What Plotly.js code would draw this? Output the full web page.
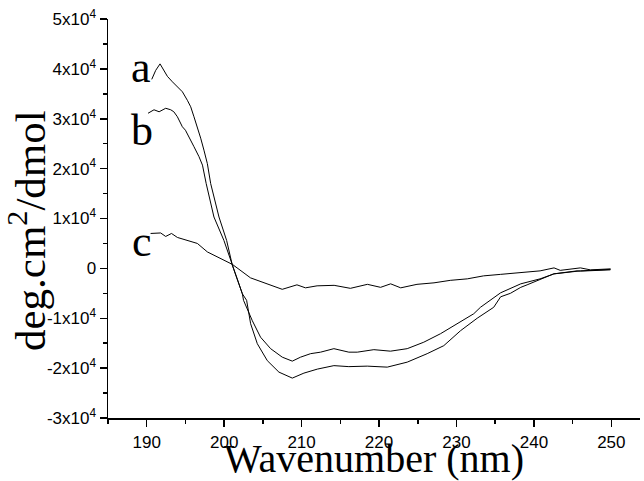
<!DOCTYPE html>
<html>
<head>
<meta charset="utf-8">
<script src="https://cdn.plot.ly/plotly-3.0.1.min.js"></script>
<style>html,body{margin:0;padding:0;background:#fff;}#chart{width:644px;height:481px;}</style>
</head>
<body>
<div id="chart"></div>
<script>
// Curve a
const aX = [190.65,191.16,191.72,192.23,192.67,193.32,193.96,194.61,195.25,195.68,196.10,196.54,196.97,197.39,197.83,198.26,199.33,200.32,201.06,202.35,202.9,203.42,204.28,205.57,207.07,208.80,210.30,212.03,214.17,216.10,218.48,221.06,223.64,226.22,228.36,230.52,232.67,234.81,235.7,236.97,238.3,239.12,240.8,241.26,242.55,245.57,246.0,249.87];
const aY = [37900,39700,41000,39800,38500,37400,36400,35400,33700,32400,30400,28400,26100,23700,21000,17000,10300,5600,600,-5100,-6400,-11100,-15100,-18500,-20800,-22000,-21000,-20200,-19500,-19700,-19600,-19800,-18800,-17100,-15500,-12500,-10000,-7800,-5700,-5000,-3800,-3300,-2300,-2000,-1100,-500,-550,-300];
// Curve b
const bX = [190.17,190.94,191.6,192.45,193.1,193.5,193.96,194.6,195.0,195.46,196.1,196.75,197.2,197.68,198.68,199.97,201.06,202.35,202.5,203.64,204.7,206.0,207.5,208.8,209.87,211.16,212.45,214.17,216.1,217.19,219.33,221.48,223.64,225.78,227.94,230.09,232.23,233.1,234.39,235.7,238.3,240.8,242.6,246.0,249.9];
const bY = [31100,31800,31400,32100,31800,31400,30400,28400,27700,26400,24400,22400,20700,17000,10300,5600,600,-5100,-6400,-10500,-13800,-16100,-17800,-18600,-17800,-17100,-16800,-16100,-16800,-16800,-16300,-16600,-16100,-14800,-13100,-11100,-9100,-7800,-6400,-4900,-3100,-2100,-1100,-500,-200];
// Curve c
const cX = [190.5,191.8,192.45,193.2,193.96,195.25,196.54,197.83,199.1,200.4,201.06,203.4,205.6,207.5,209.4,210.5,212.0,214.2,216.3,218.5,220.2,221.5,222.8,224.9,227.1,229.2,231.4,233.5,235.7,238.3,240.8,242.6,243.4,246.0,247.3,249.9];
const cY = [7000,7100,6400,7000,6200,5600,5000,3300,2300,1300,800,-1900,-3200,-4200,-3300,-3900,-3500,-3400,-4000,-3200,-3800,-3100,-3900,-3200,-2900,-2400,-2100,-1500,-1200,-900,-500,100,-400,100,-300,-100];
// Labels
const curveLabels = ['a','b','c'];
const labelX = [189.2,189.35,189.35];
const labelY = [40200,27700,5400];
const yTickVals = [-30000,-20000,-10000,0,10000,20000,30000,40000,50000];
const yTickText = ['-3x10<sup>4</sup>','-2x10<sup>4</sup>','-1x10<sup>4</sup>','0','1x10<sup>4</sup>','2x10<sup>4</sup>','3x10<sup>4</sup>','4x10<sup>4</sup>','5x10<sup>4</sup>'];
const xTickVals = [190,200,210,220,230,240,250];
const xTitle = 'Wavenumber (nm)';
const yTitle = 'deg.cm<sup>2</sup>/dmol';

const serif = '"Liberation Serif", "Times New Roman", Times, serif';
const sans = '"Liberation Sans", Arial, Helvetica, sans-serif';
const lineStyle = {color:'#000', width:1};
const traces = [
  {x:aX, y:aY, mode:'lines', line:lineStyle, name:'a'},
  {x:bX, y:bY, mode:'lines', line:lineStyle, name:'b'},
  {x:cX, y:cY, mode:'lines', line:lineStyle, name:'c'}
];
const annotations = curveLabels.map((t,i)=>({
  x:labelX[i], y:labelY[i], xref:'x', yref:'y', text:t, showarrow:false,
  font:{family:serif, size:44, color:'#000'}
}));
annotations.push({
  x:-0.152, y:0.469, xref:'paper', yref:'paper', text:yTitle, showarrow:false, textangle:-90,
  xanchor:'center', yanchor:'middle', font:{family:serif, size:43, color:'#000'}
});
const layout = {
  width:644, height:481,
  margin:{l:108, r:4, t:19, b:63},
  paper_bgcolor:'#fff', plot_bgcolor:'#fff',
  showlegend:false,
  font:{family:sans, color:'#000'},
  xaxis:{
    range:[185,253.7], tickvals:xTickVals, ticks:'outside', ticklen:7, tickwidth:1.5, tickcolor:'#000',
    showline:true, linecolor:'#000', linewidth:1.5, showgrid:false, zeroline:false,
    tickfont:{size:17, family:sans}, ticklabelstandoff:1,
    minor:{dtick:5, tick0:185, ticks:'outside', ticklen:4, tickwidth:1.5, tickcolor:'#000', showgrid:false},
    title:{text:xTitle, font:{family:serif, size:40}, standoff:0}
  },
  yaxis:{
    range:[-30000,50000], tickvals:yTickVals, ticktext:yTickText, ticks:'outside', ticklen:7, tickwidth:1.5, tickcolor:'#000',
    showline:true, linecolor:'#000', linewidth:1.5, showgrid:false, zeroline:false,
    tickfont:{size:17, family:sans},
    minor:{dtick:5000, tick0:0, ticks:'outside', ticklen:4, tickwidth:1.5, tickcolor:'#000', showgrid:false}
  },
  annotations:annotations
};
Plotly.newPlot('chart', traces, layout, {staticPlot:true, displayModeBar:false});
</script>
</body>
</html>
